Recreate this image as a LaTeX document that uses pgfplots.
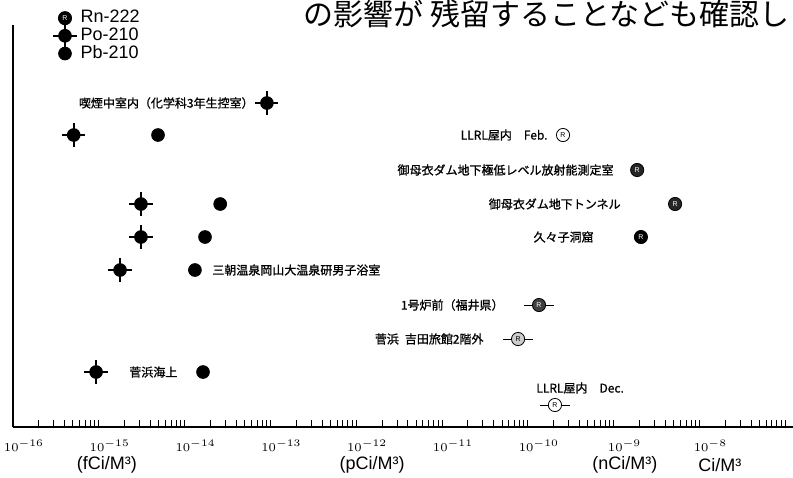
\documentclass[border=0pt]{standalone}
\usepackage{pgfplots}
\pgfplotsset{compat=1.18}
\usepackage{fontspec}
\setmainfont{Liberation Sans}
\newfontfamily\jp{Noto Sans CJK JP}[FakeBold=1]
\newfontfamily\jphand{Noto Sans CJK JP}

% Po-210: filled dot with a cross
\pgfdeclareplotmark{po}{%
  \pgfsetlinewidth{1pt}%
  \pgfpathmoveto{\pgfqpoint{-5.8pt}{0pt}}\pgfpathlineto{\pgfqpoint{5.8pt}{0pt}}%
  \pgfpathmoveto{\pgfqpoint{0pt}{-5.8pt}}\pgfpathlineto{\pgfqpoint{0pt}{5.8pt}}%
  \pgfusepathqstroke
  \pgfpathcircle{\pgfpointorigin}{\pgfplotmarksize}%
  \pgfusepathqfillstroke}
% Rn-222: circle with a small glyph, dark or light
\pgfdeclareplotmark{rn}{%
  \pgfpathcircle{\pgfpointorigin}{\pgfplotmarksize}\pgfusepathqfillstroke
  \pgftext{\fontsize{3.5}{4}\selectfont\color{white}R}}
\pgfdeclareplotmark{rnl}{%
  \pgfpathcircle{\pgfpointorigin}{\pgfplotmarksize}\pgfusepathqfillstroke
  \pgftext{\fontsize{3.5}{4}\selectfont R}}
\pgfdeclareplotmark{rnbar}{%
  \pgfpathmoveto{\pgfqpoint{-7.5pt}{0pt}}\pgfpathlineto{\pgfqpoint{7.5pt}{0pt}}\pgfusepathqstroke
  \pgfpathcircle{\pgfpointorigin}{\pgfplotmarksize}\pgfusepathqfillstroke
  \pgftext{\fontsize{3.5}{4}\selectfont\color{white}R}}
\pgfdeclareplotmark{rnbarl}{%
  \pgfpathmoveto{\pgfqpoint{-7.5pt}{0pt}}\pgfpathlineto{\pgfqpoint{7.5pt}{0pt}}\pgfusepathqstroke
  \pgfpathcircle{\pgfpointorigin}{\pgfplotmarksize}\pgfusepathqfillstroke
  \pgftext{\fontsize{3.5}{4}\selectfont R}}

\begin{document}
\begin{tikzpicture}
\begin{axis}[
  scale only axis, width=390pt, height=201pt,
  xmode=log, xmin=1e-16, xmax=1.23e-7,
  ymin=0, ymax=402,
  axis x line=bottom, axis y line=left,
  axis line style={-, line width=0.6pt},
  ytick=\empty,
  xtick={1e-16,1e-15,1e-14,1e-13,1e-12,1e-11,1e-10,1e-9,1e-8},
  minor xtick={2e-16,3e-16,4e-16,5e-16,6e-16,7e-16,8e-16,9e-16,
    2e-15,3e-15,4e-15,5e-15,6e-15,7e-15,8e-15,9e-15,
    2e-14,3e-14,4e-14,5e-14,6e-14,7e-14,8e-14,9e-14,
    2e-13,3e-13,4e-13,5e-13,6e-13,7e-13,8e-13,9e-13,
    2e-12,3e-12,4e-12,5e-12,6e-12,7e-12,8e-12,9e-12,
    2e-11,3e-11,4e-11,5e-11,6e-11,7e-11,8e-11,9e-11,
    2e-10,3e-10,4e-10,5e-10,6e-10,7e-10,8e-10,9e-10,
    2e-9,3e-9,4e-9,5e-9,6e-9,7e-9,8e-9,9e-9,
    2e-8,3e-8,4e-8,5e-8,6e-8,7e-8,8e-8,9e-8,1e-7},
  tick align=inside,
  major tick length=3.5pt, minor tick length=3.5pt,
  tick style={line width=0.5pt, black},
  xticklabel style={font=\fontsize{6}{7}\selectfont, xshift=5.5pt, yshift=-3pt},
  clip=false,
  legend style={at={(rel axis cs:0.0513,1.0473)}, anchor=north west,
    draw=none, fill=none, inner sep=0pt, row sep=-3pt,
    font=\fontsize{9}{10}\selectfont},
  legend cell align=left,
  legend image code/.code={\draw[mark repeat=2,mark phase=2,#1]
    plot coordinates {(0pt,0pt)(5pt,0pt)(10pt,0pt)};},
]
\addplot[only marks, mark=rn, mark size=3.3pt, fill=black, draw=black]
  coordinates {(2.08e-9,190)};
\addlegendentry{Rn-222}
\addplot[only marks, mark=po, mark size=2.9pt, fill=black, draw=black]
  coordinates {(9.1e-14,324) (5.1e-16,292) (3.1e-15,223) (3.1e-15,190) (1.77e-15,157) (9.3e-16,55)};
\addlegendentry{Po-210}
\addplot[only marks, mark=*, mark size=3.2pt, fill=black, draw=black]
  coordinates {(4.9e-15,292) (2.6e-14,223) (1.73e-14,190) (1.32e-14,157) (1.64e-14,55)};
\addlegendentry{Pb-210}
% other Rn-222 points
\addplot[forget plot, only marks, mark=rnl, mark size=3.3pt, fill=white, draw=black]
  coordinates {(2.57e-10,292)};
\addplot[forget plot, only marks, mark=rn, mark size=3.3pt, fill=black!85, draw=black]
  coordinates {(1.88e-9,257) (5.2e-9,223)};
\addplot[forget plot, only marks, mark=rnbar, mark size=3.3pt, fill=black!75, draw=black]
  coordinates {(1.35e-10,122)};
\addplot[forget plot, only marks, mark=rnbarl, mark size=3.3pt, fill=black!20, draw=black]
  coordinates {(7.7e-11,88)};
\addplot[forget plot, only marks, mark=rnbarl, mark size=3.3pt, fill=white, draw=black]
  coordinates {(2.07e-10,22)};

\begin{scope}[every node/.style={inner sep=0pt, font=\jp\fontsize{6}{7}\selectfont}]
\node[anchor=east] at (rel axis cs:0.3090,0.8060) {喫煙中室内（化学科3年生控室）};
\node[anchor=east] at (rel axis cs:0.6859,0.7264) {LLRL屋内\quad Feb.};
\node[anchor=east] at (rel axis cs:0.7705,0.6393) {御母衣ダム地下極低レベル放射能測定室};
\node[anchor=east] at (rel axis cs:0.7795,0.5547) {御母衣ダム地下トンネル};
\node[anchor=east] at (rel axis cs:0.7449,0.4726) {久々子洞窟};
\node[anchor=west] at (rel axis cs:0.2551,0.3905) {三朝温泉岡山大温泉研男子浴室};
\node[anchor=east] at (rel axis cs:0.6295,0.3035) {1号炉前（福井県）};
\node[anchor=east] at (rel axis cs:0.6038,0.2189) {菅浜\enspace 吉田旅館2階外};
\node[anchor=west] at (rel axis cs:0.1487,0.1368) {菅浜海上};
\node[anchor=west] at (rel axis cs:0.6705,0.0970) {LLRL屋内\quad Dec.};
\end{scope}

\begin{scope}[every node/.style={inner sep=0pt, font=\fontsize{9}{10}\selectfont}]
\node at (rel axis cs:0.1205,-0.0945) {(fCi/M³)};
\node at (rel axis cs:0.4603,-0.0945) {(pCi/M³)};
\node at (rel axis cs:0.7846,-0.0945) {(nCi/M³)};
\node at (rel axis cs:0.9064,-0.0945) {Ci/M³};
\end{scope}

\node[anchor=west, inner sep=0pt, font=\jphand\fontsize{15}{16}\selectfont]
  at (rel axis cs:0.3718,1.0274) {の影響が 残留することなども確認し};

\coordinate (bbl) at (rel axis cs:-0.016667,-0.12438);
\coordinate (bbr) at (rel axis cs:1,1.06219);
\end{axis}
\pgfresetboundingbox
\path[use as bounding box] (bbl) rectangle (bbr);
\end{tikzpicture}
\end{document}
